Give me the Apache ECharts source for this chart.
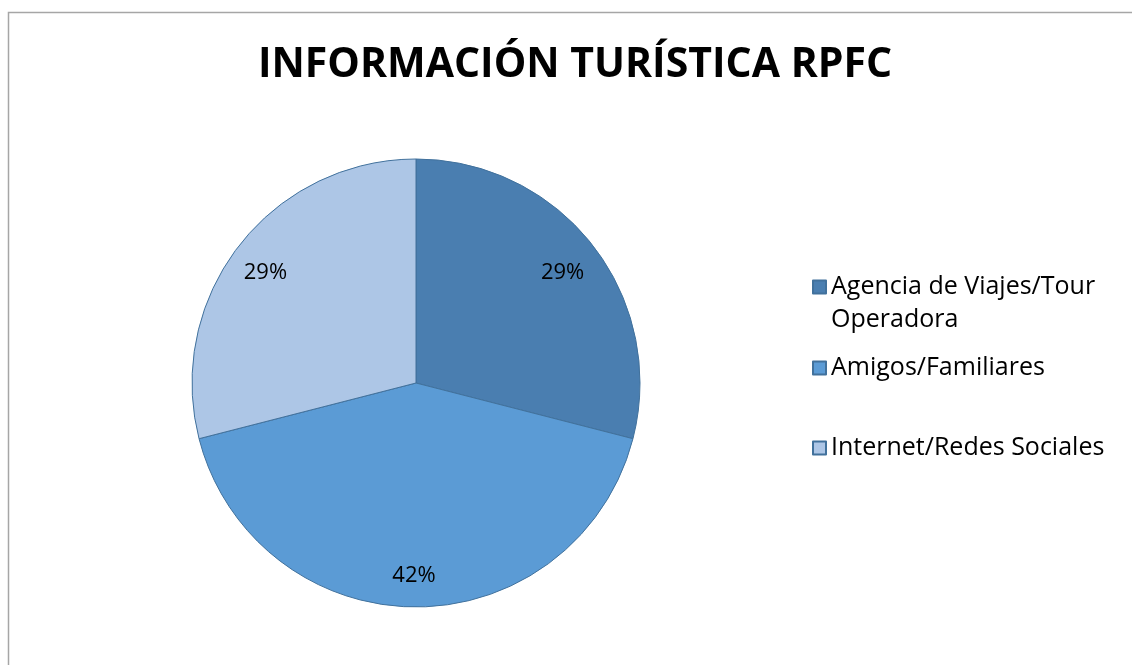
<!DOCTYPE html>
<html lang="es">
<head>
<meta charset="UTF-8">
<title>Información turística RPFC</title>
<script src="https://cdn.jsdelivr.net/npm/echarts@6/dist/echarts.min.js"></script>
<style>
    html, body { margin: 0; padding: 0; background: #fff; }
    #chart { width: 1132px; height: 665px; }
</style>
</head>
<body>
<div id="chart"></div>
<script>
    var categories = ['Agencia de Viajes/Tour Operadora', 'Amigos/Familiares', 'Internet/Redes Sociales'];
    var values = [29, 42, 29];
    var colors = ['#4a7eb0', '#5b9bd5', '#adc6e6'];
    // vertical centre of each legend marker
    var legendRows = [287, 368, 448];

    var font = '"Open Sans", "Liberation Sans", sans-serif';

    var pieData = categories.map(function (c, i) {
        return { name: c, value: values[i], itemStyle: { color: colors[i] } };
    });

    var legends = categories.map(function (c, i) {
        var wrapped = i === 0;
        return {
            data: [c],
            left: 812,
            top: wrapped ? legendRows[i] - 49.5 : legendRows[i] - 16.5,
            padding: 0,
            icon: 'rect',
            itemWidth: 13,
            itemHeight: 13,
            itemGap: 0,
            selectedMode: false,
            formatter: function (name) {
                // blank first line keeps the marker level with "Agencia..."
                return name.indexOf('/Tour ') > -1 ? '\n' + name.replace('/Tour ', '/Tour\n') : name;
            },
            textStyle: {
                fontFamily: font,
                fontSize: 25,
                color: '#000',
                lineHeight: 33
            }
        };
    });

    var chart = echarts.init(document.getElementById('chart'));
    chart.setOption({
        animation: false,
        title: {
            text: 'INFORMACIÓN TURÍSTICA RPFC',
            left: 575,
            top: 45,
            textAlign: 'center',
            padding: 0,
            textStyle: { fontFamily: font, fontWeight: 'bold', fontSize: 41, color: '#000' }
        },
        legend: legends,
        graphic: [{
            type: 'rect',
            shape: { x: 8.5, y: 12.5, width: 1300, height: 800 },
            style: { fill: 'none', stroke: '#a6a6a6', lineWidth: 1.5 },
            silent: true
        }],
        series: [{
            type: 'pie',
            center: [416, 383],
            radius: 224,
            startAngle: 90,
            clockwise: true,
            itemStyle: { borderColor: '#41719c', borderWidth: 1 },
            label: { show: false },
            labelLine: { show: false },
            emphasis: { disabled: true },
            data: pieData
        }, {
            // transparent ring, only used to place the percentage labels
            type: 'pie',
            center: [416, 383],
            radius: [146, 224],
            startAngle: 90,
            clockwise: true,
            silent: true,
            itemStyle: { color: 'rgba(0,0,0,0)', borderWidth: 0 },
            label: {
                show: true,
                position: 'inside',
                formatter: '{d}%',
                fontFamily: font,
                fontSize: 22,
                color: '#000',
                offset: [-2, 5]
            },
            labelLine: { show: false },
            emphasis: { disabled: true },
            data: categories.map(function (c, i) { return { name: c, value: values[i] }; })
        }]
    });
</script>
</body>
</html>
